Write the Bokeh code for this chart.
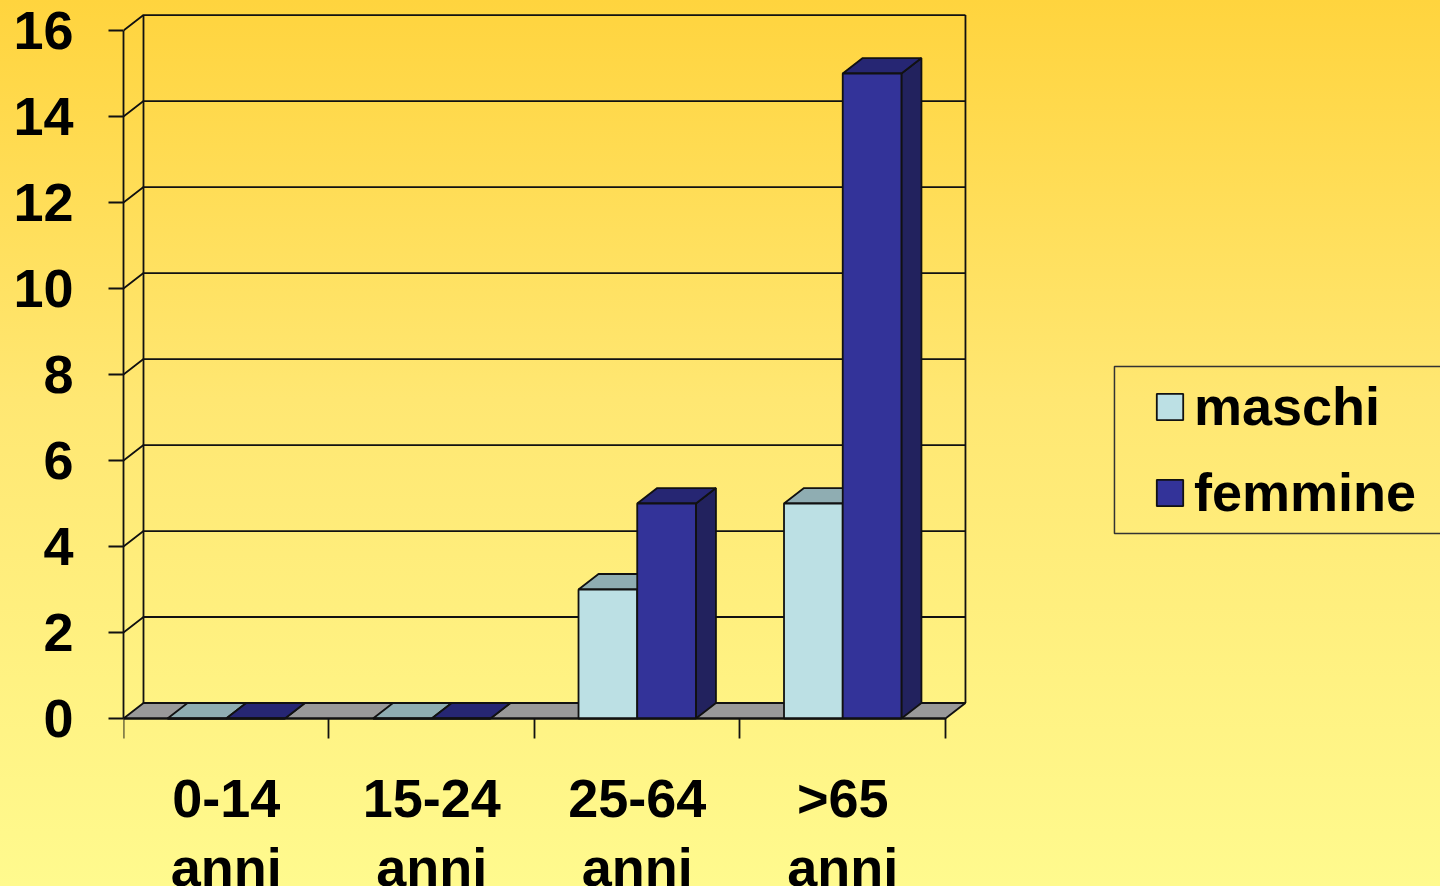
import numpy as np
from bokeh.plotting import figure
from bokeh.models import (ColumnDataSource, Range1d, FixedTicker, Legend, LegendItem,
                          BoxAnnotation)
from bokeh.embed import file_html
from bokeh.resources import INLINE

# ---- data -------------------------------------------------------------
categories = ["0-14 anni", "15-24 anni", "25-64 anni", ">65 anni"]
maschi = [0, 0, 3, 5]
femmine = [0, 0, 5, 15]
y_ticks = [0, 2, 4, 6, 8, 10, 12, 14, 16]
series = [("maschi", maschi), ("femmine", femmine)]

# ---- style ------------------------------------------------------------
FONT = "Liberation Sans"
FONT_SIZE = "54px"
EDGE = "#111111"
EDGE_W = 1.8
FRONT = {"maschi": "#BCE0E4", "femmine": "#333399"}
TOP = {"maschi": "#8FADB2", "femmine": "#262673"}
SIDE = {"maschi": "#7E9A9E", "femmine": "#22225E"}
FLOOR = "#999999"

# oblique depth of the 3-D box, in data units (x: categories, y: values)
DX, DY = 0.0973, 0.36
BAR_W = 1 / 3.5          # two bars per category, gap width 150 %

n = len(categories)
y_max = max(y_ticks)

p = figure(width=1440, height=886,
           x_range=Range1d(0, 6.409), y_range=Range1d(-3.907, 16.698),
           min_border_left=123, min_border_right=0, min_border_top=0,
           min_border_bottom=0, output_backend="svg", toolbar_location=None)
p.xgrid.visible = False
p.ygrid.visible = False
p.outline_line_color = None
p.background_fill_alpha = 0
p.border_fill_alpha = 0
p.styles = {"background": "linear-gradient(to bottom, #FFD43E 0%, #FFE772 45%, #FFFA8E 100%)"}

# ---- value axis -------------------------------------------------------
yax = p.yaxis[0]
yax.ticker = FixedTicker(ticks=y_ticks)
yax.bounds = (0, y_max)
yax.axis_line_color = EDGE
yax.axis_line_width = EDGE_W
yax.major_tick_line_color = EDGE
yax.major_tick_line_width = EDGE_W
yax.major_tick_out = 15
yax.major_tick_in = 0
yax.minor_tick_line_color = None
yax.major_label_standoff = 35
yax.major_label_text_font = FONT
yax.major_label_text_font_style = "bold"
yax.major_label_text_font_size = FONT_SIZE
yax.major_label_text_color = "black"

# ---- category axis, pinned to the zero line ---------------------------
centers = [i + 0.5 for i in range(n)]
xax = p.xaxis[0]
xax.fixed_location = 0
xax.ticker = FixedTicker(ticks=centers, minor_ticks=list(range(n + 1)))
xax.bounds = (0, n)
xax.axis_line_color = EDGE
xax.axis_line_width = EDGE_W
xax.major_tick_line_color = None
xax.major_tick_out = 0
xax.major_tick_in = 0
xax.minor_tick_line_color = EDGE
xax.minor_tick_line_width = EDGE_W
xax.minor_tick_out = 20
xax.minor_tick_in = 0
xax.major_label_overrides = {c: cat.replace(" ", "\n") for c, cat in zip(centers, categories)}
xax.major_label_standoff = 29
xax.major_label_text_font = FONT
xax.major_label_text_font_style = "bold"
xax.major_label_text_font_size = FONT_SIZE
xax.major_label_text_color = "black"
xax.major_label_text_line_height = 1.15

# ---- floor and walls --------------------------------------------------
p.patch([0, n, n + DX, DX], [0, 0, DY, DY], fill_color=FLOOR,
        line_color=EDGE, line_width=EDGE_W)

wall_xs, wall_ys = [], []
for v in y_ticks[1:]:
    wall_xs.append([0, DX, n + DX])
    wall_ys.append([v, v + DY, v + DY])
wall_xs += [[DX, DX], [n + DX, n + DX]]
wall_ys += [[DY, y_max + DY], [DY, y_max + DY]]
p.multi_line(wall_xs, wall_ys, line_color=EDGE, line_width=EDGE_W)

# ---- bars -------------------------------------------------------------
front_renderers = {}
for s, (name, vals) in enumerate(series):
    vals = np.asarray(vals, dtype=float)
    x0 = np.arange(n) + 0.5 - BAR_W + s * BAR_W
    x1 = x0 + BAR_W
    side_xs = [[a, a, a + DX, a + DX] for a in x1]
    side_ys = [[0, v, v + DY, DY] for v in vals]
    top_xs = [[a, a + DX, b + DX, b] for a, b in zip(x0, x1)]
    top_ys = [[v, v + DY, v + DY, v] for v in vals]
    p.patches(side_xs, side_ys, fill_color=SIDE[name], line_color=EDGE, line_width=EDGE_W)
    p.patches(top_xs, top_ys, fill_color=TOP[name], line_color=EDGE, line_width=EDGE_W)
    src = ColumnDataSource(dict(left=x0, right=x1, bottom=np.zeros(n), top=vals))
    front_renderers[name] = p.quad(left="left", right="right", bottom="bottom", top="top",
                                   source=src, fill_color=FRONT[name],
                                   line_color=EDGE, line_width=EDGE_W)

# ---- legend -----------------------------------------------------------
p.add_layout(BoxAnnotation(left=4.8224, right=7.0, bottom=4.302, top=8.186,
                           fill_alpha=0, line_color="#333333", line_alpha=1,
                           line_width=1.5))
legend = Legend(items=[LegendItem(label=name, renderers=[front_renderers[name]])
                       for name, _ in series],
                location=(1018, 185 + 168 - 2), padding=12, spacing=24,
                glyph_width=33, glyph_height=33, label_standoff=8, label_height=60,
                label_text_font=FONT, label_text_font_style="bold",
                label_text_font_size=FONT_SIZE, label_text_color="black",
                border_line_alpha=0, background_fill_alpha=0)
p.add_layout(legend)

open("out.html", "w").write(file_html(p, INLINE))
